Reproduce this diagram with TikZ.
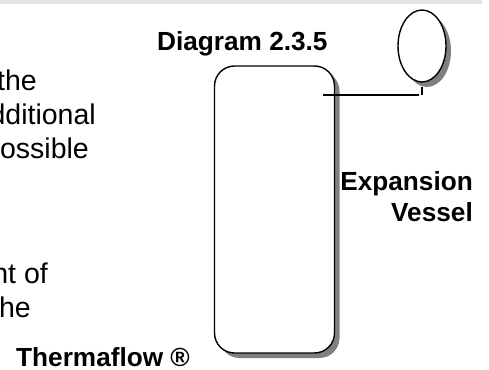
\documentclass[tikz,border=0pt]{standalone}
\usepackage{fontspec}
\setmainfont{Liberation Sans}
\usetikzlibrary{shadows,shapes.geometric}
\definecolor{BandGrey}{HTML}{E4E4E4}
\definecolor{ShadowGrey}{HTML}{808080}

\begin{document}
\begin{tikzpicture}[
    x=1pt,y=-1pt,
    bodytext/.style={inner sep=0pt,anchor=base east,font=\fontsize{28.5}{34}\selectfont},
    heading/.style={inner sep=0pt,font=\fontsize{26.2}{30}\selectfont\bfseries},
    vessel/.style={draw,line width=1.4pt,fill=white,ellipse,inner sep=0pt,
      minimum width=48pt,minimum height=72pt,
      drop shadow={shadow xshift=5pt,shadow yshift=-5pt,fill=ShadowGrey,opacity=1}},
    tank/.style={draw,line width=1.4pt,fill=white,rectangle,rounded corners=20pt,inner sep=0pt,
      minimum width=120pt,minimum height=287pt,
      drop shadow={shadow xshift=5pt,shadow yshift=-5pt,fill=ShadowGrey,opacity=1}},
    pipe/.style={line width=1.4pt}
  ]
    \useasboundingbox (0,0) rectangle (489,369);
    \fill[BandGrey] (0,0) rectangle (482,4.5);

    \node[bodytext] (t1) at (37,90) {the};
    \node[bodytext] (t2) at (96,124) {dditional};
    \node[bodytext] (t3) at (89,158) {ossible};
    \node[bodytext] (t4) at (48,283) {nt of};
    \node[bodytext] (t5) at (31,317) {he};

    \node[heading,anchor=base west] (title) at (157,51) {Diagram 2.3.5};
    \node[heading,anchor=base west] (brand) at (16,366) {Thermaflow ®};
    \node[heading,anchor=base east] (label) at (473,190) {Expansion};
    \node[heading,anchor=base east] (label2) at (473,221) {Vessel};

    \node[tank] (tk) at (274.5,209.5) {};
    \node[vessel] (ev) at (422,46) {};

    \coordinate (p1) at (323,95);
    \coordinate (p2) at (419,95);
    \coordinate (p3) at (422,95);
    \coordinate (p4) at (422,87);
    \draw[pipe] (p1) -- (p2);
    \draw[pipe] (p4) -- (p3);
  \end{tikzpicture}
\end{document}
